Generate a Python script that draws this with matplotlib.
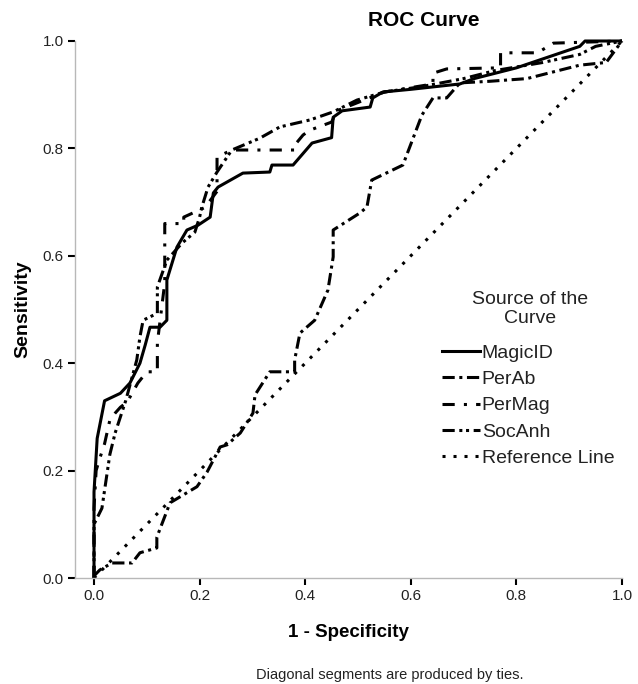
import matplotlib
matplotlib.use("Agg")
import matplotlib.pyplot as plt
from matplotlib.lines import Line2D

plt.rcParams['font.family'] = ['Liberation Sans', 'DejaVu Sans']

# ROC curves (1 - specificity, sensitivity)
magic_x = [0, 0, 0.006, 0.012, 0.02, 0.05, 0.068, 0.087, 0.097, 0.106, 0.125, 0.138, 0.138,
           0.157, 0.176, 0.197, 0.22, 0.226, 0.235, 0.282, 0.333, 0.337, 0.377, 0.413, 0.45,
           0.453, 0.47, 0.523, 0.528, 0.547, 0.60, 0.693, 0.72, 0.80, 0.86, 0.92, 0.93, 1.0]
magic_y = [0, 0.16, 0.26, 0.29, 0.33, 0.344, 0.363, 0.40, 0.434, 0.467, 0.467, 0.48, 0.555,
           0.616, 0.648, 0.657, 0.672, 0.717, 0.728, 0.754, 0.756, 0.769, 0.769, 0.81, 0.82,
           0.858, 0.87, 0.877, 0.894, 0.905, 0.91, 0.92, 0.93, 0.95, 0.97, 0.99, 1.0, 1.0]

perab_x = [0, 0.002, 0.011, 0.034, 0.072, 0.087, 0.119, 0.119, 0.144, 0.195, 0.214, 0.239,
           0.252, 0.277, 0.301, 0.305, 0.333, 0.38, 0.38, 0.39, 0.418, 0.443, 0.453, 0.453,
           0.504, 0.517, 0.526, 0.585, 0.621, 0.642, 0.668, 0.693, 0.75, 0.82, 0.86, 0.92,
           0.97, 1.0]
perab_y = [0, 0.006, 0.015, 0.028, 0.028, 0.047, 0.056, 0.076, 0.14, 0.17, 0.197, 0.244,
           0.248, 0.27, 0.307, 0.341, 0.384, 0.384, 0.406, 0.456, 0.48, 0.536, 0.598, 0.648,
           0.68, 0.691, 0.741, 0.769, 0.862, 0.894, 0.894, 0.922, 0.925, 0.93, 0.94, 0.955,
           0.96, 1.0]

permag_x = [0, 0, 0.004, 0.01, 0.02, 0.03, 0.04, 0.05, 0.063, 0.083, 0.1, 0.12, 0.12, 0.134,
            0.134, 0.17, 0.17, 0.21, 0.233, 0.233, 0.261, 0.333, 0.38, 0.38, 0.396, 0.409,
            0.45, 0.46, 0.55, 0.642, 0.642, 0.668, 0.77, 0.77, 0.84, 0.87, 1.0]
permag_y = [0, 0.13, 0.2, 0.22, 0.25, 0.294, 0.307, 0.318, 0.328, 0.363, 0.384, 0.384, 0.438,
            0.55, 0.66, 0.66, 0.672, 0.69, 0.72, 0.784, 0.797, 0.797, 0.797, 0.806, 0.825,
            0.834, 0.849, 0.87, 0.905, 0.92, 0.94, 0.948, 0.95, 0.978, 0.978, 0.996, 1.0]

socanh_x = [0, 0, 0.015, 0.03, 0.04, 0.06, 0.081, 0.087, 0.093, 0.12, 0.12, 0.138, 0.167,
            0.191, 0.2, 0.204, 0.216, 0.233, 0.261, 0.314, 0.352, 0.409, 0.453, 0.498, 0.55,
            0.62, 0.70, 0.76, 0.85, 0.92, 0.95, 1.0]
socanh_y = [0, 0.1, 0.13, 0.23, 0.27, 0.33, 0.406, 0.449, 0.48, 0.493, 0.542, 0.592, 0.624,
            0.644, 0.672, 0.69, 0.728, 0.756, 0.797, 0.819, 0.84, 0.853, 0.868, 0.89, 0.905,
            0.915, 0.93, 0.945, 0.96, 0.975, 0.99, 1.0]

ref_x = [0, 1]
ref_y = [0, 1]

names = ['MagicID', 'PerAb', 'PerMag', 'SocAnh', 'Reference Line']
styles = ['-', (0, (4, 1.5, 1, 1.5)), (0, (4, 3, 1, 3)), (0, (4, 1.5, 1, 1.2, 1, 1.5)), (0, (1, 2.6))]
ticks = [0.0, 0.2, 0.4, 0.6, 0.8, 1.0]

fig = plt.figure(figsize=(6.38, 6.84), dpi=100)
ax = fig.add_axes([75 / 638, 1 - 578 / 684, 547 / 638, 537 / 684])

series = [(magic_x, magic_y), (perab_x, perab_y), (permag_x, permag_y),
          (socanh_x, socanh_y), (ref_x, ref_y)]
lw = 2.2
for (xs, ys), ls in zip(series, styles):
    ax.plot(xs, ys, color='black', linestyle=ls, linewidth=lw, clip_on=False,
            solid_capstyle='butt', dash_capstyle='butt')

ax.set_xlim(-0.036, 1.0)
ax.set_ylim(0, 1.0)
ax.set_xticks(ticks)
ax.set_yticks(ticks)
ax.set_xticklabels([f'{t:.1f}' for t in ticks])
ax.set_yticklabels([f'{t:.1f}' for t in ticks])
ax.tick_params(direction='out', length=5, width=1.5, colors='black', labelsize=11,
               labelcolor='#222222', pad=3)
for side in ['top', 'right']:
    ax.spines[side].set_visible(False)
for side in ['left', 'bottom']:
    ax.spines[side].set_color('#b8b8b8')
    ax.spines[side].set_linewidth(1)

ax.set_xlabel('1 - Specificity', fontsize=13.5, fontweight='bold', labelpad=15)
ax.set_ylabel('Sensitivity', fontsize=14, fontweight='bold', labelpad=8)
fig.text(424 / 638, 1 - 20 / 684, 'ROC Curve', fontsize=15, fontweight='bold',
         ha='center', va='center')
fig.text(390 / 638, 1 - 675 / 684, 'Diagonal segments are produced by ties.',
         fontsize=10.5, ha='center', va='center', color='#222222')

# legend title drawn separately so its gap to the entries can be set
fig.text(530 / 638, 1 - 309 / 684, 'Source of the\nCurve', fontsize=14,
         ha='center', va='center', multialignment='center', linespacing=1.2,
         color='#222222')
handles = [Line2D([], [], color='black', linestyle=ls, linewidth=lw,
                  dash_capstyle='butt') for ls in styles]
leg = ax.legend(handles, names, frameon=False,
                loc='upper left', bbox_to_anchor=(442 / 638, 1 - 344 / 684),
                bbox_transform=fig.transFigure, fontsize=14,
                handlelength=1.95, handletextpad=0.1, labelspacing=0.45,
                borderaxespad=0, borderpad=0)
for t in leg.get_texts():
    t.set_color('#222222')

fig.savefig('out.png', dpi=100)
